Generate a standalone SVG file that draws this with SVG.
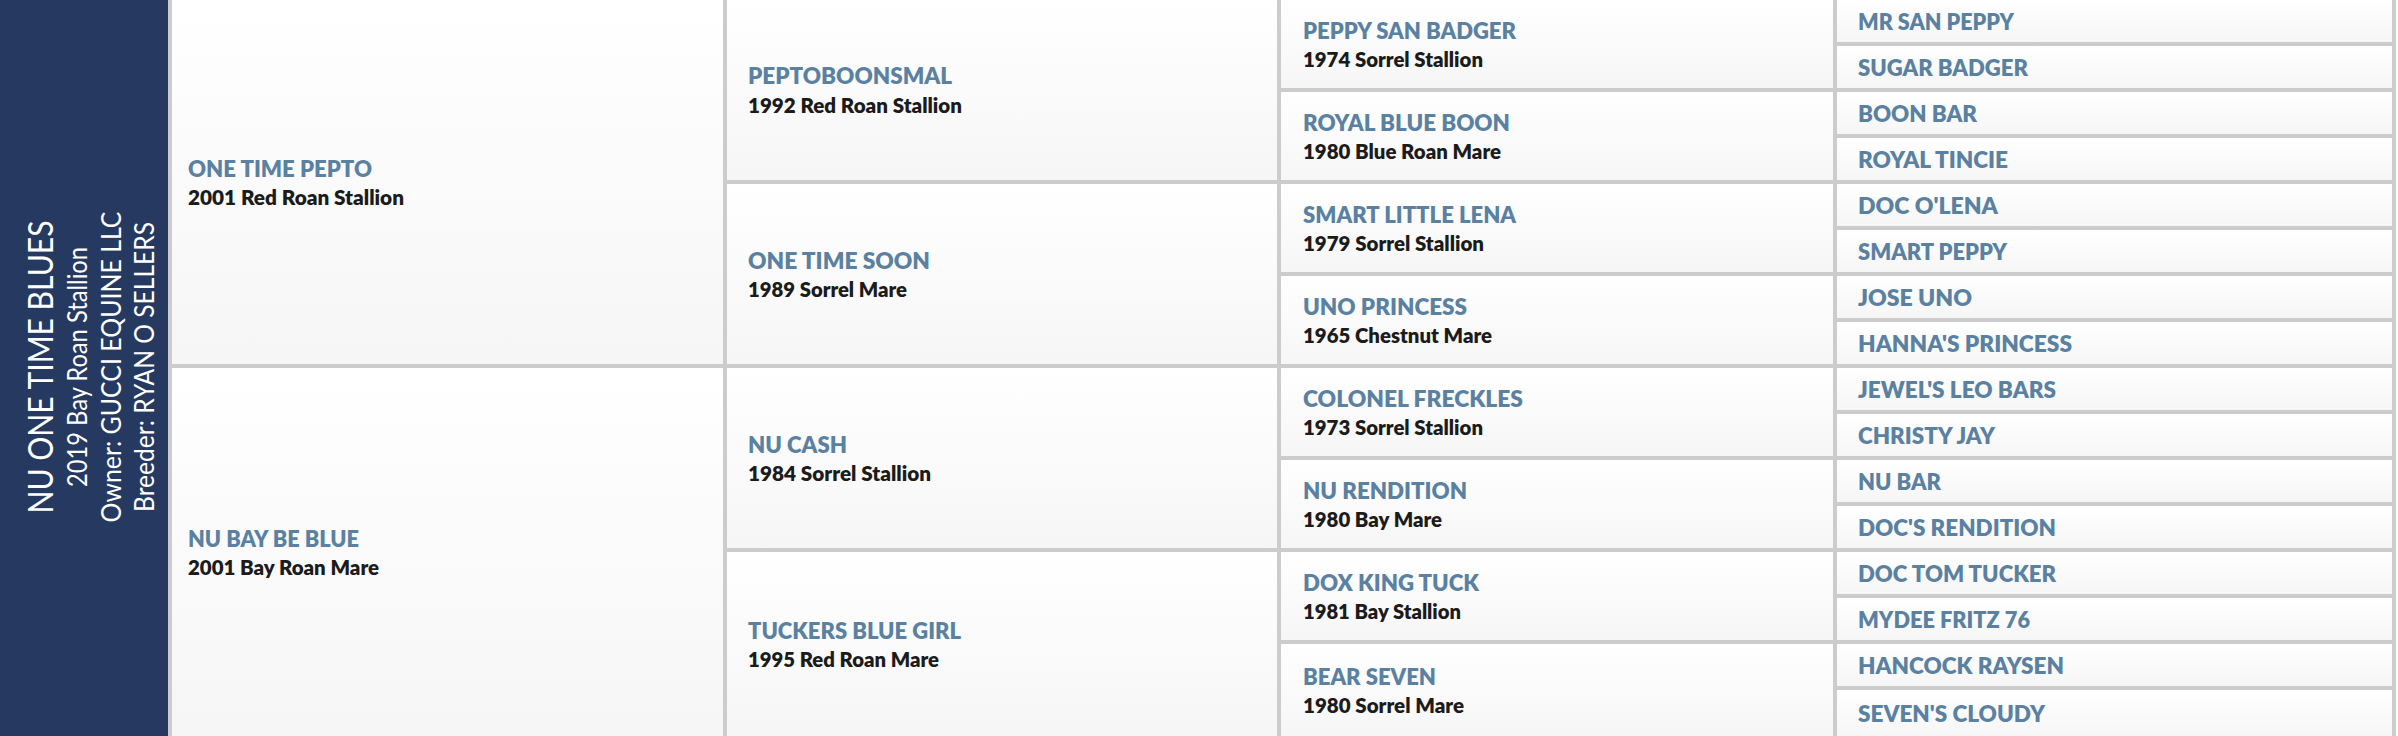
<svg xmlns="http://www.w3.org/2000/svg" width="2398" height="736" viewBox="0 0 2398 736">
<defs>
<linearGradient id="cellbg" x1="0" y1="0" x2="0" y2="1">
<stop offset="0" stop-color="#ffffff"/>
<stop offset="1" stop-color="#f6f6f6"/>
</linearGradient>
</defs>
<style>
.cell{fill:url(#cellbg)}
.nm{font-family:Lato,"Liberation Sans",sans-serif;font-weight:800;font-size:23px;fill:#5a81a1}
.sb{font-family:Lato,"Liberation Sans",sans-serif;font-weight:800;font-size:20px;fill:#1b1b1b}
.tt{font-family:Lato,"Liberation Sans",sans-serif;font-weight:400;fill:#ffffff}
</style>
<rect x="0" y="0" width="2398" height="736" fill="#ffffff"/>
<g id="grid">
<rect x="168" y="0" width="2228" height="736" fill="#cccccc"/>
</g>
<g id="subject">
<rect x="0" y="0" width="168" height="736" fill="#253961"/>
<text class="tt" font-size="35" text-anchor="middle" transform="translate(53,367) rotate(-90)" textLength="293" lengthAdjust="spacingAndGlyphs">NU ONE TIME BLUES</text>
<text class="tt" font-size="27" text-anchor="middle" transform="translate(87,367) rotate(-90)" textLength="240" lengthAdjust="spacingAndGlyphs">2019 Bay Roan Stallion</text>
<text class="tt" font-size="27" text-anchor="middle" transform="translate(121,367) rotate(-90)" textLength="311" lengthAdjust="spacingAndGlyphs">Owner: GUCCI EQUINE LLC</text>
<text class="tt" font-size="27" text-anchor="middle" transform="translate(154,367) rotate(-90)" textLength="290" lengthAdjust="spacingAndGlyphs">Breeder: RYAN O SELLERS</text>
</g>
<g id="connectors"></g>
<!-- Generation 1 -->
<g id="sire"><rect class="cell" x="172" y="0" width="551" height="364"/><text class="nm" x="188" y="177" textLength="184" lengthAdjust="spacingAndGlyphs">ONE TIME PEPTO</text><text class="sb" x="188" y="205" textLength="216" lengthAdjust="spacingAndGlyphs">2001 Red Roan Stallion</text></g>
<g id="dam"><rect class="cell" x="172" y="368" width="551" height="368"/><text class="nm" x="188" y="547" textLength="171" lengthAdjust="spacingAndGlyphs">NU BAY BE BLUE</text><text class="sb" x="188" y="575" textLength="191" lengthAdjust="spacingAndGlyphs">2001 Bay Roan Mare</text></g>
<!-- Generation 2 -->
<g id="ss"><rect class="cell" x="727" y="0" width="550" height="180"/><text class="nm" x="748" y="84" textLength="204" lengthAdjust="spacingAndGlyphs">PEPTOBOONSMAL</text><text class="sb" x="748" y="113" textLength="214" lengthAdjust="spacingAndGlyphs">1992 Red Roan Stallion</text></g>
<g id="sd"><rect class="cell" x="727" y="184" width="550" height="180"/><text class="nm" x="748" y="269" textLength="182" lengthAdjust="spacingAndGlyphs">ONE TIME SOON</text><text class="sb" x="748" y="297" textLength="159" lengthAdjust="spacingAndGlyphs">1989 Sorrel Mare</text></g>
<g id="ds"><rect class="cell" x="727" y="368" width="550" height="180"/><text class="nm" x="748" y="453" textLength="99" lengthAdjust="spacingAndGlyphs">NU CASH</text><text class="sb" x="748" y="481" textLength="183" lengthAdjust="spacingAndGlyphs">1984 Sorrel Stallion</text></g>
<g id="dd"><rect class="cell" x="727" y="552" width="550" height="184"/><text class="nm" x="748" y="639" textLength="213" lengthAdjust="spacingAndGlyphs">TUCKERS BLUE GIRL</text><text class="sb" x="748" y="667" textLength="191" lengthAdjust="spacingAndGlyphs">1995 Red Roan Mare</text></g>
<!-- Generation 3 -->
<g id="sss"><rect class="cell" x="1281" y="0" width="552" height="88"/><text class="nm" x="1303" y="39" textLength="213" lengthAdjust="spacingAndGlyphs">PEPPY SAN BADGER</text><text class="sb" x="1303" y="67" textLength="180" lengthAdjust="spacingAndGlyphs">1974 Sorrel Stallion</text></g>
<g id="ssd"><rect class="cell" x="1281" y="92" width="552" height="88"/><text class="nm" x="1303" y="131" textLength="207" lengthAdjust="spacingAndGlyphs">ROYAL BLUE BOON</text><text class="sb" x="1303" y="159" textLength="198" lengthAdjust="spacingAndGlyphs">1980 Blue Roan Mare</text></g>
<g id="sds"><rect class="cell" x="1281" y="184" width="552" height="88"/><text class="nm" x="1303" y="223" textLength="213" lengthAdjust="spacingAndGlyphs">SMART LITTLE LENA</text><text class="sb" x="1303" y="251" textLength="181" lengthAdjust="spacingAndGlyphs">1979 Sorrel Stallion</text></g>
<g id="sdd"><rect class="cell" x="1281" y="276" width="552" height="88"/><text class="nm" x="1303" y="315" textLength="164" lengthAdjust="spacingAndGlyphs">UNO PRINCESS</text><text class="sb" x="1303" y="343" textLength="189" lengthAdjust="spacingAndGlyphs">1965 Chestnut Mare</text></g>
<g id="dss"><rect class="cell" x="1281" y="368" width="552" height="88"/><text class="nm" x="1303" y="407" textLength="220" lengthAdjust="spacingAndGlyphs">COLONEL FRECKLES</text><text class="sb" x="1303" y="435" textLength="180" lengthAdjust="spacingAndGlyphs">1973 Sorrel Stallion</text></g>
<g id="dsd"><rect class="cell" x="1281" y="460" width="552" height="88"/><text class="nm" x="1303" y="499" textLength="164" lengthAdjust="spacingAndGlyphs">NU RENDITION</text><text class="sb" x="1303" y="527" textLength="139" lengthAdjust="spacingAndGlyphs">1980 Bay Mare</text></g>
<g id="dds"><rect class="cell" x="1281" y="552" width="552" height="88"/><text class="nm" x="1303" y="591" textLength="176" lengthAdjust="spacingAndGlyphs">DOX KING TUCK</text><text class="sb" x="1303" y="619" textLength="158" lengthAdjust="spacingAndGlyphs">1981 Bay Stallion</text></g>
<g id="ddd"><rect class="cell" x="1281" y="644" width="552" height="92"/><text class="nm" x="1303" y="685" textLength="133" lengthAdjust="spacingAndGlyphs">BEAR SEVEN</text><text class="sb" x="1303" y="713" textLength="161" lengthAdjust="spacingAndGlyphs">1980 Sorrel Mare</text></g>
<!-- Generation 4 -->
<g id="g4-1"><rect class="cell" x="1837" y="0" width="555" height="42"/><text class="nm" x="1858" y="30" textLength="156" lengthAdjust="spacingAndGlyphs">MR SAN PEPPY</text></g>
<g id="g4-2"><rect class="cell" x="1837" y="46" width="555" height="42"/><text class="nm" x="1858" y="76" textLength="170" lengthAdjust="spacingAndGlyphs">SUGAR BADGER</text></g>
<g id="g4-3"><rect class="cell" x="1837" y="92" width="555" height="42"/><text class="nm" x="1858" y="122" textLength="119" lengthAdjust="spacingAndGlyphs">BOON BAR</text></g>
<g id="g4-4"><rect class="cell" x="1837" y="138" width="555" height="42"/><text class="nm" x="1858" y="168" textLength="150" lengthAdjust="spacingAndGlyphs">ROYAL TINCIE</text></g>
<g id="g4-5"><rect class="cell" x="1837" y="184" width="555" height="42"/><text class="nm" x="1858" y="214" textLength="140" lengthAdjust="spacingAndGlyphs">DOC O'LENA</text></g>
<g id="g4-6"><rect class="cell" x="1837" y="230" width="555" height="42"/><text class="nm" x="1858" y="260" textLength="149" lengthAdjust="spacingAndGlyphs">SMART PEPPY</text></g>
<g id="g4-7"><rect class="cell" x="1837" y="276" width="555" height="42"/><text class="nm" x="1858" y="306" textLength="114" lengthAdjust="spacingAndGlyphs">JOSE UNO</text></g>
<g id="g4-8"><rect class="cell" x="1837" y="322" width="555" height="42"/><text class="nm" x="1858" y="352" textLength="214" lengthAdjust="spacingAndGlyphs">HANNA'S PRINCESS</text></g>
<g id="g4-9"><rect class="cell" x="1837" y="368" width="555" height="42"/><text class="nm" x="1858" y="398" textLength="198" lengthAdjust="spacingAndGlyphs">JEWEL'S LEO BARS</text></g>
<g id="g4-10"><rect class="cell" x="1837" y="414" width="555" height="42"/><text class="nm" x="1858" y="444" textLength="137" lengthAdjust="spacingAndGlyphs">CHRISTY JAY</text></g>
<g id="g4-11"><rect class="cell" x="1837" y="460" width="555" height="42"/><text class="nm" x="1858" y="490" textLength="83" lengthAdjust="spacingAndGlyphs">NU BAR</text></g>
<g id="g4-12"><rect class="cell" x="1837" y="506" width="555" height="42"/><text class="nm" x="1858" y="536" textLength="198" lengthAdjust="spacingAndGlyphs">DOC'S RENDITION</text></g>
<g id="g4-13"><rect class="cell" x="1837" y="552" width="555" height="42"/><text class="nm" x="1858" y="582" textLength="198" lengthAdjust="spacingAndGlyphs">DOC TOM TUCKER</text></g>
<g id="g4-14"><rect class="cell" x="1837" y="598" width="555" height="42"/><text class="nm" x="1858" y="628" textLength="172" lengthAdjust="spacingAndGlyphs">MYDEE FRITZ 76</text></g>
<g id="g4-15"><rect class="cell" x="1837" y="644" width="555" height="42"/><text class="nm" x="1858" y="674" textLength="206" lengthAdjust="spacingAndGlyphs">HANCOCK RAYSEN</text></g>
<g id="g4-16"><rect class="cell" x="1837" y="690" width="555" height="46"/><text class="nm" x="1858" y="722" textLength="187" lengthAdjust="spacingAndGlyphs">SEVEN'S CLOUDY</text></g>
</svg>
